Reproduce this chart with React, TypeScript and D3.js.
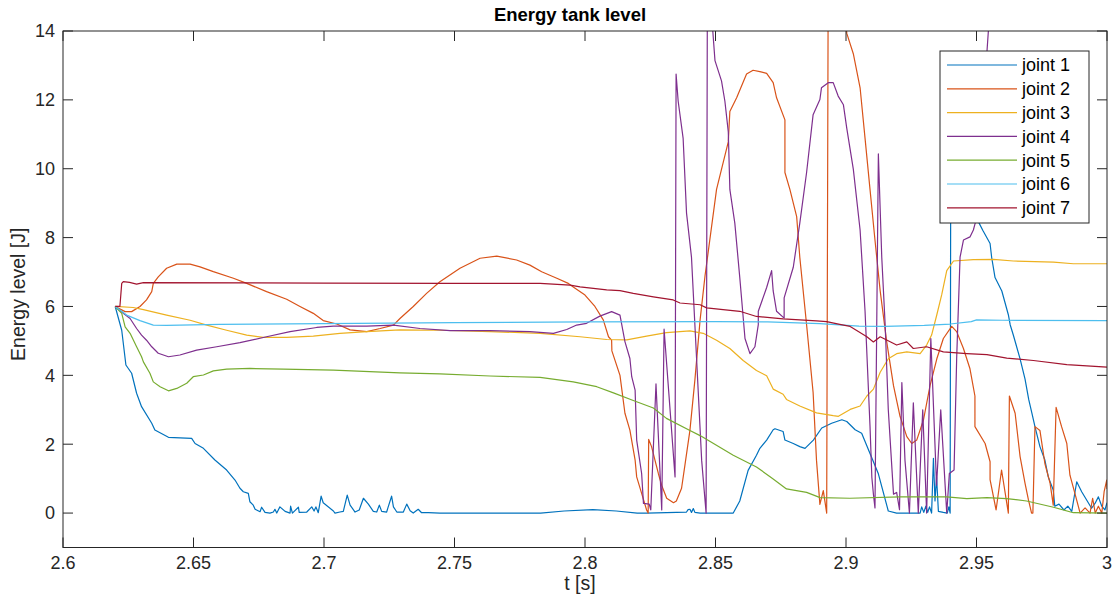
import React from "react";
import * as d3 from "d3";

const xTicks = [2.6, 2.65, 2.7, 2.75, 2.8, 2.85, 2.9, 2.95, 3];
const xTickLabels = ["2.6", "2.65", "2.7", "2.75", "2.8", "2.85", "2.9", "2.95", "3"];
const yTicks = [0, 2, 4, 6, 8, 10, 12, 14];
const yTickLabels = ["0", "2", "4", "6", "8", "10", "12", "14"];
const seriesNames = ["joint 1", "joint 2", "joint 3", "joint 4", "joint 5", "joint 6", "joint 7"];
const seriesColors = ["#0072BD", "#D95319", "#EDB120", "#7E2F8E", "#77AC30", "#4DBEEE", "#A2142F"];

const joint1: [number, number][] = [
  [2.620, 6.0], [2.6225, 5.31], [2.6241, 4.30], [2.6263, 4.06], [2.6282, 3.48], [2.6301, 3.09], [2.634, 2.61], [2.6352, 2.41], [2.6404, 2.20], [2.6493, 2.17], [2.6506, 2.02], [2.6538, 1.88], [2.6582, 1.54], [2.6627, 1.25], [2.6659, 0.96], [2.6678, 0.72], [2.6691, 0.62], [2.671, 0.57], [2.6716, 0.33], [2.6729, 0.23], [2.6736, 0.11], [2.6755, 0.04], [2.6761, 0.17], [2.6774, 0.02], [2.6793, 0], [2.6806, 0.03], [2.6812, 0.11], [2.6819, 0], [2.6831, 0.18], [2.6851, 0.05], [2.687, 0], [2.6872, 0.2], [2.6879, 0], [2.6902, 0.17], [2.6905, 0.02], [2.6934, 0.03], [2.6953, 0.18], [2.6962, 0.06], [2.6969, 0.18], [2.6978, 0.01], [2.6989, 0.49], [2.6997, 0.30], [2.7036, 0.06], [2.7042, 0], [2.7061, 0.03], [2.7074, 0.05], [2.7089, 0.52], [2.71, 0.23], [2.7119, 0.03], [2.7135, 0.09], [2.7151, 0.43], [2.717, 0.26], [2.7189, 0.05], [2.7202, 0.03], [2.7212, 0.23], [2.7221, 0.05], [2.724, 0.03], [2.7246, 0.18], [2.7259, 0.49], [2.7266, 0.18], [2.7279, 0.03], [2.7304, 0.03], [2.7317, 0.26], [2.733, 0.07], [2.7342, 0], [2.7361, 0.11], [2.7374, 0.01], [2.74, 0.01], [2.7444, 0], [2.783, 0], [2.792, 0.06], [2.803, 0.1], [2.812, 0.06], [2.82, 0.0], [2.8236, 0], [2.8389, 0.03], [2.8395, 0.1], [2.8402, 0.11], [2.8408, 0.02], [2.8415, 0.13], [2.8421, 0.02], [2.8441, 0], [2.8568, 0], [2.8593, 0.35], [2.8625, 1.24], [2.8657, 1.68], [2.867, 1.88], [2.8696, 2.12], [2.8721, 2.42], [2.8728, 2.45], [2.8759, 2.37], [2.8766, 2.12], [2.8798, 2.02], [2.8823, 1.93], [2.8843, 1.88], [2.8875, 2.12], [2.8907, 2.47], [2.8945, 2.61], [2.8984, 2.71], [2.9003, 2.66], [2.9035, 2.42], [2.906, 2.32], [2.9092, 1.73], [2.9124, 1.14], [2.9162, 0.06], [2.9194, 0], [2.9284, 0], [2.929, 0.18], [2.9298, 0.02], [2.9306, 0.2], [2.9313, 0.02], [2.932, 0.18], [2.9328, 0], [2.9335, 1.59], [2.9341, 0.35], [2.9347, 1.05], [2.9354, 0.05], [2.9373, 0.02], [2.9388, 0], [2.9394, 0.18], [2.9399, 0], [2.9401, 8.8], [2.9445, 9.4], [2.951, 8.42], [2.9525, 8.2], [2.9552, 7.83], [2.9558, 7.43], [2.9571, 6.84], [2.9597, 6.45], [2.9622, 5.76], [2.9629, 5.47], [2.9641, 5.17], [2.9667, 4.48], [2.9686, 3.89], [2.9700, 3.3], [2.9712, 2.91], [2.9724, 2.51], [2.9743, 1.93], [2.9762, 1.54], [2.9775, 1.05], [2.9794, 0.67], [2.98, 0.2], [2.9816, 0.26], [2.9835, 0.09], [2.9850, 0.2], [2.9865, 0.05], [2.9884, 0.91], [2.9903, 0.62], [2.9922, 0.38], [2.9941, 0.14], [2.9954, 0.28], [2.9967, 0.47], [2.998, 0.2], [2.9992, 0.09], [3.0, 0.3],
];

const joint2: [number, number][] = [
  [2.620, 6.0], [2.6238, 5.85], [2.6263, 5.85], [2.6295, 6.0], [2.632, 6.19], [2.634, 6.43], [2.6346, 6.67], [2.6365, 6.86], [2.6397, 7.11], [2.6436, 7.23], [2.6487, 7.23], [2.6525, 7.15], [2.6576, 7.01], [2.6653, 6.82], [2.6704, 6.67], [2.678, 6.43], [2.6857, 6.21], [2.6908, 6.0], [2.6959, 5.8], [2.6997, 5.59], [2.7049, 5.49], [2.71, 5.32], [2.7164, 5.27], [2.7215, 5.36], [2.7266, 5.46], [2.7291, 5.65], [2.7342, 6.0], [2.7393, 6.38], [2.7444, 6.72], [2.7521, 7.11], [2.7598, 7.40], [2.7662, 7.46], [2.7738, 7.35], [2.7789, 7.2], [2.7834, 7.01], [2.7892, 6.82], [2.7936, 6.67], [2.7962, 6.53], [2.8, 6.33], [2.8038, 6.0], [2.807, 5.61], [2.809, 5.12], [2.8102, 5.02], [2.8103, 4.71], [2.8134, 4.0], [2.8153, 2.9], [2.8172, 2.41], [2.8192, 1.54], [2.8198, 1.05], [2.8217, 0.57], [2.8236, 0.09], [2.8242, 0.0], [2.8244, 2.14], [2.8255, 1.93], [2.8268, 1.54], [2.8281, 1.15], [2.8294, 0.8], [2.8313, 0.43], [2.8339, 0.30], [2.835, 0.35], [2.837, 0.72], [2.8383, 1.4], [2.8402, 2.4], [2.8421, 3.86], [2.8441, 5.61], [2.846, 6.9], [2.8466, 7.24], [2.8504, 9.4], [2.8549, 10.78], [2.8555, 11.66], [2.8581, 12.06], [2.8619, 12.75], [2.8644, 12.86], [2.867, 12.82], [2.8696, 12.77], [2.8721, 12.5], [2.8734, 12.06], [2.8766, 11.42], [2.8766, 9.89], [2.8785, 9.4], [2.8811, 8.61], [2.8823, 7.43], [2.8849, 5.47], [2.8874, 3.5], [2.8887, 1.53], [2.89, 0.25], [2.8913, 0.65], [2.8926, 0], [2.8932, 16], [2.898, 16.5], [2.9003, 13.93], [2.9028, 13.34], [2.9054, 12.35], [2.9073, 10.88], [2.9092, 9.4], [2.9111, 7.93], [2.9131, 6.45], [2.9156, 4.97], [2.9182, 3.7], [2.9207, 2.81], [2.9233, 2.22], [2.9252, 2.02], [2.9271, 2.12], [2.9297, 2.71], [2.9322, 3.7], [2.9348, 4.48], [2.9373, 5.07], [2.9405, 5.42], [2.9424, 5.27], [2.945, 4.78], [2.9475, 4.19], [2.9494, 3.4], [2.9494, 2.51], [2.9533, 2.02], [2.9552, 1.49], [2.9552, 0.97], [2.9575, 0.09], [2.9596, 1.25], [2.9622, 0], [2.9626, 3.4], [2.9648, 2.9], [2.9667, 1.64], [2.9686, 0.86], [2.9699, 0.38], [2.9711, 0], [2.9716, 0], [2.9724, 2.51], [2.9743, 2.4], [2.9762, 1.44], [2.9782, 0.86], [2.9794, 0.23], [2.9805, 3.07], [2.9826, 2.51], [2.9846, 2.02], [2.9858, 1.1], [2.9877, 0.57], [2.9897, 0.0], [2.9916, 0.15], [2.9935, 0.0], [2.9945, 0.43], [2.9955, 0.0], [2.9967, 0.2], [2.998, 0.0], [2.9989, 0.62], [2.9999, 0.96], [3.0, 0.7],
];

const joint3: [number, number][] = [
  [2.620, 6.0], [2.6269, 5.97], [2.6308, 5.91], [2.6397, 5.75], [2.6487, 5.6], [2.6551, 5.46], [2.6627, 5.31], [2.6704, 5.17], [2.6767, 5.1], [2.6857, 5.1], [2.6959, 5.14], [2.7061, 5.22], [2.7164, 5.27], [2.7291, 5.32], [2.7444, 5.31], [2.7636, 5.27], [2.7828, 5.22], [2.7981, 5.12], [2.8083, 5.04], [2.816, 5.03], [2.8236, 5.14], [2.8312, 5.24], [2.8402, 5.29], [2.8453, 5.22], [2.8504, 5.02], [2.8555, 4.78], [2.8606, 4.43], [2.8657, 4.14], [2.8696, 3.99], [2.8721, 3.6], [2.8759, 3.45], [2.8772, 3.3], [2.8823, 3.11], [2.8887, 2.91], [2.8951, 2.83], [2.8971, 2.81], [2.9016, 3.01], [2.9054, 3.11], [2.908, 3.4], [2.9105, 3.6], [2.9131, 4.09], [2.9162, 4.48], [2.9194, 4.63], [2.9233, 4.68], [2.9284, 4.63], [2.9309, 4.88], [2.9328, 5.17], [2.9348, 5.76], [2.9367, 6.35], [2.9386, 7.04], [2.9412, 7.32], [2.9488, 7.36], [2.9565, 7.37], [2.9641, 7.32], [2.9795, 7.29], [2.9871, 7.24], [3.0, 7.24],
];

const joint4: [number, number][] = [
  [2.620, 6.0], [2.6231, 5.8], [2.6257, 5.65], [2.6282, 5.36], [2.6301, 5.17], [2.632, 5.02], [2.634, 4.83], [2.6365, 4.64], [2.6404, 4.54], [2.6448, 4.59], [2.6512, 4.73], [2.6589, 4.83], [2.6678, 4.95], [2.678, 5.12], [2.687, 5.27], [2.6972, 5.39], [2.7036, 5.43], [2.7164, 5.43], [2.7266, 5.46], [2.7368, 5.36], [2.7483, 5.30], [2.7636, 5.30], [2.7789, 5.27], [2.7879, 5.22], [2.793, 5.33], [2.7968, 5.46], [2.8006, 5.51], [2.8057, 5.72], [2.8102, 5.85], [2.8134, 5.75], [2.8153, 4.98], [2.8172, 4.49], [2.8179, 3.96], [2.8192, 3.57], [2.8198, 2.12], [2.8217, 1.15], [2.8224, 0.28], [2.8246, 0.26], [2.8252, 0.09], [2.8272, 3.75], [2.8294, 0.09], [2.8303, 5.34], [2.8345, 1.05], [2.8349, 12.75], [2.8357, 11.96], [2.8376, 10.88], [2.8389, 8.71], [2.8408, 7.43], [2.8421, 5.47], [2.8434, 3.5], [2.8447, 1.53], [2.8464, 0], [2.8469, 15.5], [2.8475, 15.5], [2.8498, 13.14], [2.8523, 12.55], [2.8536, 11.96], [2.8549, 11.07], [2.8555, 9.4], [2.8574, 8.42], [2.8593, 6.84], [2.8613, 5.07], [2.8632, 4.63], [2.8651, 4.83], [2.8664, 5.47], [2.8664, 5.86], [2.8696, 6.55], [2.8715, 7.04], [2.8721, 6.45], [2.8734, 5.86], [2.8763, 5.66], [2.8763, 6.25], [2.8798, 7.14], [2.8823, 8.42], [2.8849, 9.89], [2.8874, 11.57], [2.89, 12.01], [2.8906, 12.35], [2.8932, 12.5], [2.8951, 12.5], [2.897, 12.11], [2.899, 11.86], [2.9003, 11.17], [2.9028, 9.99], [2.9054, 8.22], [2.9073, 5.86], [2.9092, 2.52], [2.9099, 1.04], [2.9105, 0.55], [2.9111, 0.15], [2.9124, 10.43], [2.9137, 7.43], [2.915, 5.47], [2.9162, 3.01], [2.9182, 0.55], [2.9194, 0.6], [2.9205, 0.1], [2.9214, 3.79], [2.9226, 1.53], [2.9243, 0.0], [2.9258, 3.2], [2.9277, 0], [2.9294, 3.0], [2.9309, 0], [2.9325, 5.07], [2.9347, 0.81], [2.9363, 3.0], [2.9386, 0], [2.9396, 1.15], [2.9414, 1.25], [2.9424, 4.48], [2.9437, 7.43], [2.945, 7.93], [2.9475, 8.02], [2.9488, 8.22], [2.9495, 8.42], [2.955, 14.5], [2.96, 16], [3.0, 17],
];

const joint5: [number, number][] = [
  [2.620, 6.0], [2.6225, 5.8], [2.6238, 5.41], [2.6257, 5.22], [2.6282, 4.83], [2.6301, 4.54], [2.6308, 4.39], [2.6333, 4.06], [2.6346, 3.81], [2.6372, 3.67], [2.6404, 3.55], [2.6436, 3.62], [2.6474, 3.77], [2.6499, 3.96], [2.6538, 4.01], [2.6576, 4.13], [2.6627, 4.18], [2.6716, 4.2], [2.6844, 4.18], [2.7036, 4.15], [2.7291, 4.07], [2.7444, 4.04], [2.7636, 3.98], [2.7828, 3.94], [2.7955, 3.81], [2.8045, 3.67], [2.8109, 3.49], [2.8185, 3.27], [2.8262, 3.05], [2.8312, 2.75], [2.8402, 2.4], [2.8441, 2.25], [2.8568, 1.68], [2.8657, 1.34], [2.8721, 0.99], [2.8772, 0.7], [2.8849, 0.6], [2.8901, 0.45], [2.9015, 0.43], [2.9207, 0.47], [2.9386, 0.47], [2.9463, 0.42], [2.954, 0.45], [2.9616, 0.42], [2.9692, 0.35], [2.9795, 0.17], [2.9871, 0.01], [3.0, 0],
];

const joint6: [number, number][] = [
  [2.620, 6.0], [2.6244, 5.75], [2.6295, 5.59], [2.6346, 5.46], [2.6397, 5.45], [2.66, 5.48], [2.70, 5.5], [2.75, 5.53], [2.80, 5.55], [2.85, 5.56], [2.87, 5.55], [2.89, 5.5], [2.905, 5.43], [2.915, 5.42], [2.93, 5.45], [2.94, 5.49], [2.948, 5.56], [2.950, 5.61], [2.96, 5.6], [3.0, 5.59],
];

const joint7: [number, number][] = [
  [2.620, 6.0], [2.6218, 6.0], [2.6225, 6.67], [2.6231, 6.72], [2.6255, 6.7], [2.6282, 6.65], [2.6308, 6.69], [2.70, 6.68], [2.7483, 6.67], [2.7828, 6.67], [2.7943, 6.62], [2.7981, 6.57], [2.8083, 6.48], [2.8134, 6.46], [2.8185, 6.38], [2.8262, 6.28], [2.8338, 6.19], [2.8364, 6.10], [2.8441, 6.05], [2.8466, 5.96], [2.8529, 5.91], [2.8593, 5.86], [2.8657, 5.71], [2.8759, 5.64], [2.8887, 5.58], [2.8926, 5.56], [2.8976, 5.48], [2.9016, 5.42], [2.908, 5.12], [2.9105, 4.97], [2.9131, 5.12], [2.9194, 4.88], [2.9233, 4.97], [2.9258, 4.78], [2.9309, 4.83], [2.9373, 4.68], [2.9463, 4.63], [2.954, 4.6], [2.9616, 4.5], [2.9718, 4.43], [2.9846, 4.31], [3.0, 4.24],
];

const allSeries = [joint1, joint2, joint3, joint4, joint5, joint6, joint7];

const W = 1112;
const H = 600;
const L = 63;
const R = 1107;
const T = 31;
const B = 547.5;
const FONT = "'Liberation Sans', Arial, Helvetica, sans-serif";
const AX = "#262626";

export default function App() {
  const x = d3.scaleLinear().domain([2.6, 3.0]).range([L, R]);
  const y = d3.scaleLinear().domain([-1, 14]).range([B, T]);
  const line = d3
    .line<[number, number]>()
    .x((d) => x(d[0]))
    .y((d) => y(d[1]));
  const tickLen = 10;
  const legX = 940;
  const legY = 51;
  const legW = 149;
  const legH = 172;
  const rowH = 23.8;

  return (
    <svg
      width={W}
      height={H}
      style={{ position: "absolute", left: 0, top: 0, background: "#fff" }}
      fontFamily={FONT}
    >
      <defs>
        <clipPath id="plotClip">
          <rect x={L} y={T} width={R - L} height={B - T} />
        </clipPath>
      </defs>
      <rect x={0} y={0} width={W} height={H} fill="#fff" />
      <g clipPath="url(#plotClip)">
        {allSeries.map((s, i) => (
          <path
            key={i}
            d={line(s) || ""}
            fill="none"
            stroke={seriesColors[i]}
            strokeWidth={1.2}
            strokeLinejoin="round"
          />
        ))}
      </g>
      {/* axes box */}
      <rect x={L} y={T} width={R - L} height={B - T} fill="none" stroke={AX} strokeWidth={1} />
      {xTicks.map((t, i) => (
        <g key={"xt" + i}>
          <line x1={x(t)} x2={x(t)} y1={B} y2={B - tickLen} stroke={AX} strokeWidth={1} />
          <line x1={x(t)} x2={x(t)} y1={T} y2={T + tickLen} stroke={AX} strokeWidth={1} />
          <text x={x(t)} y={569} textAnchor="middle" fontSize={18} fill={AX}>
            {xTickLabels[i]}
          </text>
        </g>
      ))}
      {yTicks.map((t, i) => (
        <g key={"yt" + i}>
          <line x1={L} x2={L + tickLen} y1={y(t)} y2={y(t)} stroke={AX} strokeWidth={1} />
          <line x1={R} x2={R - tickLen} y1={y(t)} y2={y(t)} stroke={AX} strokeWidth={1} />
          <text x={55} y={y(t)} dy="0.35em" textAnchor="end" fontSize={18} fill={AX}>
            {yTickLabels[i]}
          </text>
        </g>
      ))}
      <text x={570} y={21} textAnchor="middle" fontSize={18.5} fontWeight="bold" fill="#000">
        Energy tank level
      </text>
      <text x={(L + R) / 2 - 5} y={590} textAnchor="middle" fontSize={19.5} fill={AX}>
        t [s]
      </text>
      <text
        transform={`translate(25,${(T + B) / 2 + 5}) rotate(-90)`}
        textAnchor="middle"
        fontSize={19.5}
        fill={AX}
      >
        Energy level [J]
      </text>
      {/* legend */}
      <rect x={legX} y={legY} width={legW} height={legH} fill="#fff" stroke={AX} strokeWidth={1} />
      {seriesNames.map((n, i) => {
        const cy = legY + 14 + i * rowH;
        return (
          <g key={"lg" + i}>
            <line x1={947} x2={1017} y1={cy} y2={cy} stroke={seriesColors[i]} strokeWidth={1.2} />
            <text x={1022} y={cy} dy="0.35em" fontSize={18} fill="#000">
              {n}
            </text>
          </g>
        );
      })}
    </svg>
  );
}
